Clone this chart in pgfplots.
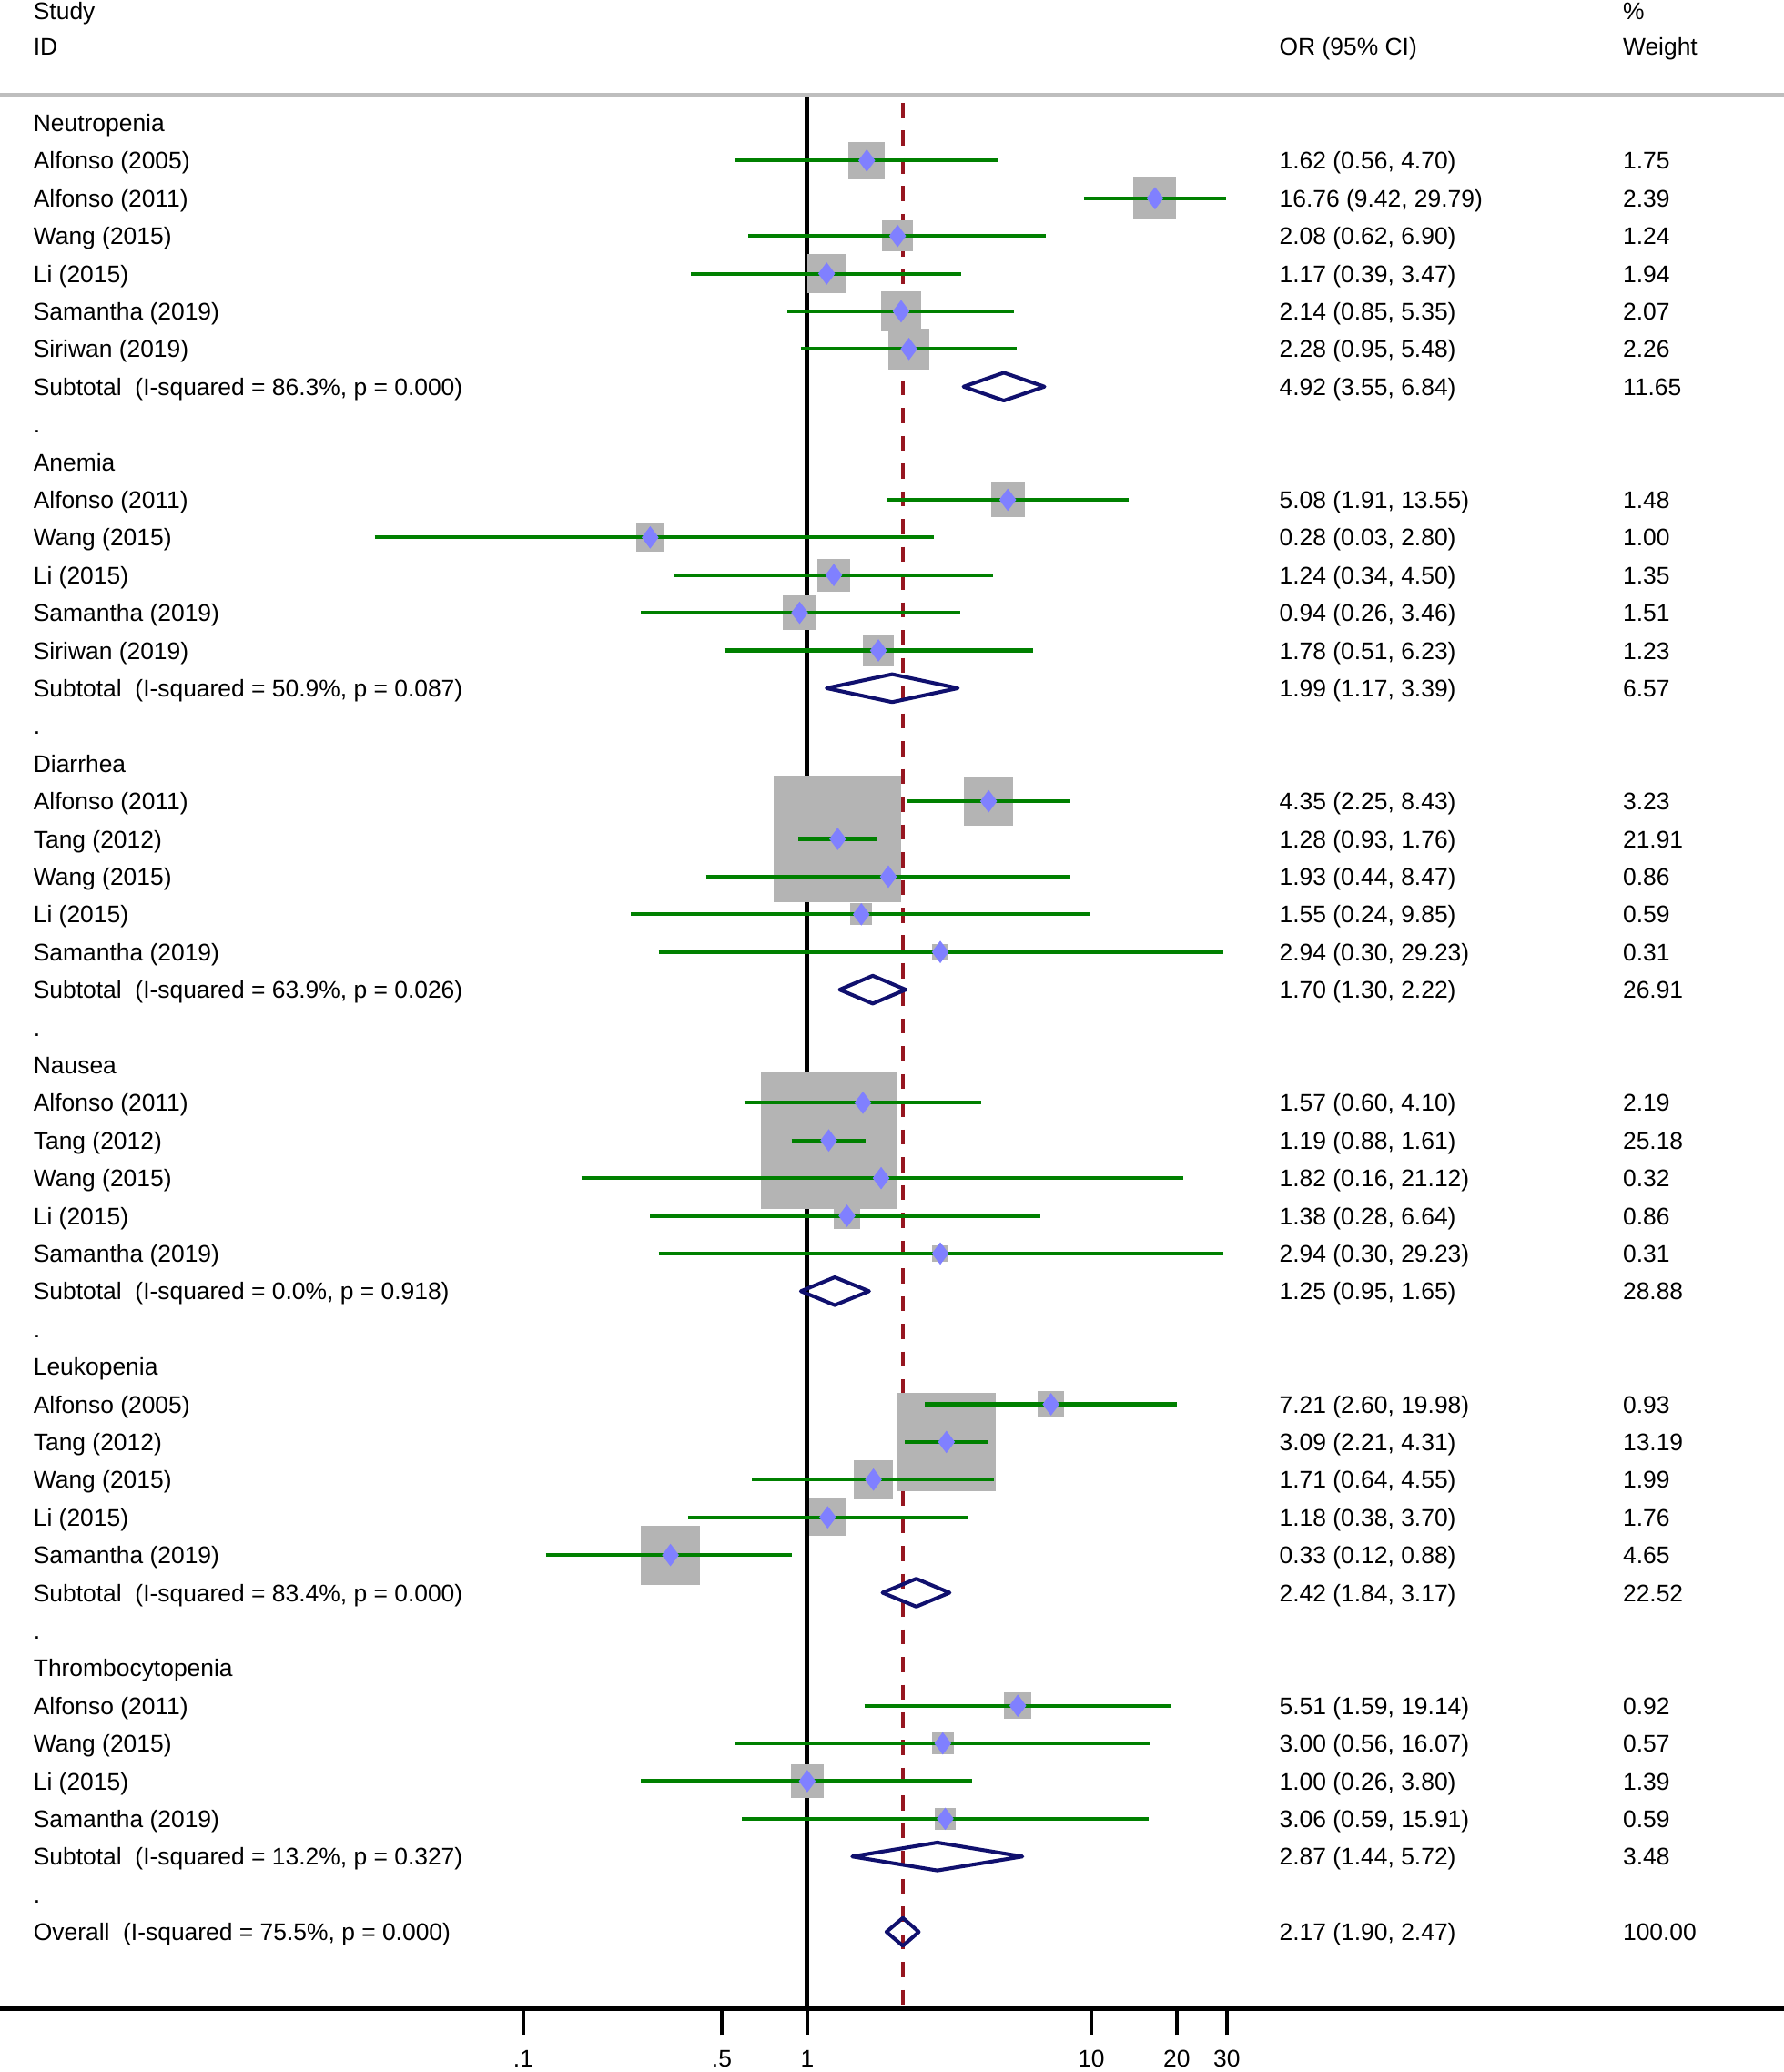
\documentclass[border=0pt]{standalone}
\usepackage{fontspec}
\setmainfont{Liberation Sans}
\usepackage{pgfplots}
\usepackage{pgfplotstable}
\pgfplotsset{compat=1.18}

\definecolor{boxgray}{RGB}{180,180,180}
\definecolor{cigreen}{RGB}{0,128,0}
\definecolor{mblue}{RGB}{128,128,255}
\definecolor{dnavy}{RGB}{16,16,110}
\definecolor{dred}{RGB}{150,22,32}
\definecolor{topgray}{RGB}{190,190,190}

\newcommand\fs{\fontsize{9.1}{11}\selectfont}

% individual studies: row index, OR, lower, upper, weight
\pgfplotstableread{
row or lo hi w
1 1.62 0.56 4.70 1.75
2 16.76 9.42 29.79 2.39
3 2.08 0.62 6.90 1.24
4 1.17 0.39 3.47 1.94
5 2.14 0.85 5.35 2.07
6 2.28 0.95 5.48 2.26
10 5.08 1.91 13.55 1.48
11 0.28 0.03 2.80 1.00
12 1.24 0.34 4.50 1.35
13 0.94 0.26 3.46 1.51
14 1.78 0.51 6.23 1.23
18 4.35 2.25 8.43 3.23
19 1.28 0.93 1.76 21.91
20 1.93 0.44 8.47 0.86
21 1.55 0.24 9.85 0.59
22 2.94 0.30 29.23 0.31
26 1.57 0.60 4.10 2.19
27 1.19 0.88 1.61 25.18
28 1.82 0.16 21.12 0.32
29 1.38 0.28 6.64 0.86
30 2.94 0.30 29.23 0.31
34 7.21 2.60 19.98 0.93
35 3.09 2.21 4.31 13.19
36 1.71 0.64 4.55 1.99
37 1.18 0.38 3.70 1.76
38 0.33 0.12 0.88 4.65
42 5.51 1.59 19.14 0.92
43 3.00 0.56 16.07 0.57
44 1.00 0.26 3.80 1.39
45 3.06 0.59 15.91 0.59
}\studies

% pooled estimates (subtotals and overall)
\pgfplotstableread{
row or lo hi w
7 4.92 3.55 6.84 11.65
15 1.99 1.17 3.39 6.57
23 1.70 1.30 2.22 26.91
31 1.25 0.95 1.65 28.88
39 2.42 1.84 3.17 22.52
46 2.87 1.44 5.72 3.48
48 2.17 1.90 2.47 100.00
}\pooled

\newcommand\rowtext[4]{%
  \node[txt] at ({rel axis cs:0.01852,0}|-{axis cs:1,-#1}) {#2};
  \node[txt] at ({rel axis cs:0.71704,0}|-{axis cs:1,-#1}) {#3};
  \node[txt] at ({rel axis cs:0.90963,0}|-{axis cs:1,-#1}) {#4};
}

\begin{document}
\begin{tikzpicture}[txt/.style={anchor=base west, yshift=-3.3pt, inner sep=0pt, font=\fs, text=black}]
\pgfplotstablegetrowsof{\studies}
\pgfmathtruncatemacro{\nlast}{\pgfplotsretval-1}
\pgfplotstablegetrowsof{\pooled}
\pgfmathtruncatemacro{\nlastp}{\pgfplotsretval-1}
\begin{axis}[
  name=ax,
  scale only axis,
  width=675pt, height=724pt,
  xmode=log,
  xmin=0.0014392, xmax=2736.2,
  ymin=-50.035, ymax=0.7363,
  clip=false,
  clip mode=individual,
  axis x line=bottom,
  axis y line=none,
  x axis line style={-, line width=2pt, black},
  xtick={0.1,0.5,1,10,20,30},
  xticklabels={.1,.5,1,10,20,30},
  xminorticks=false,
  ytick=\empty,
  tick align=outside,
  major tick length=10pt,
  every tick/.style={black, line width=1.5pt},
  xticklabel style={font=\fs, anchor=base, yshift=-12pt},
]
% reference lines
\addplot[black, line width=1.7pt] coordinates {(1,0.7363) (1,-50.035)};
\addplot[dred, line width=1.3pt, dash pattern=on 5.7pt off 4.8pt] coordinates {(2.17,0.53) (2.17,-50.035)};
\draw[topgray, line width=1.4pt] (rel axis cs:0,1) -- (rel axis cs:1,1);

% weight boxes
\addplot[scatter, only marks, mark=square*,
  point meta=\thisrow{w},
  scatter/use mapped color={draw=boxgray, fill=boxgray},
  visualization depends on={5.1*sqrt(\thisrow{w}) \as \msz},
  scatter/@pre marker code/.append style={/tikz/mark size=\msz, /tikz/line width=0.3pt}]
  table[x=or, y expr=-\thisrow{row}] {\studies};

% confidence intervals
\pgfplotsinvokeforeach{0,...,\nlast}{%
  \pgfplotstablegetelem{#1}{lo}\of{\studies}\let\cilo\pgfplotsretval
  \pgfplotstablegetelem{#1}{hi}\of{\studies}\let\cihi\pgfplotsretval
  \pgfplotstablegetelem{#1}{row}\of{\studies}\let\cirow\pgfplotsretval
  \edef\doplot{\noexpand\addplot[cigreen, line width=1.4pt] coordinates {(\cilo,-\cirow) (\cihi,-\cirow)};}%
  \doplot
}

% point estimates
\addplot[only marks, mark=diamond*, mark size=4pt, mark options={draw=mblue, fill=mblue, line width=0.3pt}]
  table[x=or, y expr=-\thisrow{row}] {\studies};

% pooled diamonds
\pgfplotsinvokeforeach{0,...,\nlastp}{%
  \pgfplotstablegetelem{#1}{lo}\of{\pooled}\let\dlo\pgfplotsretval
  \pgfplotstablegetelem{#1}{hi}\of{\pooled}\let\dhi\pgfplotsretval
  \pgfplotstablegetelem{#1}{or}\of{\pooled}\let\dest\pgfplotsretval
  \pgfplotstablegetelem{#1}{row}\of{\pooled}\let\drow\pgfplotsretval
  \pgfmathsetmacro\dym{-\drow}%
  \pgfmathsetmacro\dyt{-\drow+0.37}%
  \pgfmathsetmacro\dyb{-\drow-0.37}%
  \edef\doplot{\noexpand\addplot[dnavy, line width=1.4pt, line join=round] coordinates {(\dlo,\dym) (\dest,\dyt) (\dhi,\dym) (\dest,\dyb)} -- cycle;}%
  \doplot
}

% header
\node[txt] at ({rel axis cs:0.01852,0}|-{axis cs:1,2.98}) {Study};
\node[txt] at ({rel axis cs:0.90963,0}|-{axis cs:1,2.98}) {\%};
\node[txt] at ({rel axis cs:0.01852,0}|-{axis cs:1,2.03}) {ID};
\node[txt] at ({rel axis cs:0.71704,0}|-{axis cs:1,2.03}) {OR (95\% CI)};
\node[txt] at ({rel axis cs:0.90963,0}|-{axis cs:1,2.03}) {Weight};

\rowtext{0}{Neutropenia}{}{}
\rowtext{1}{Alfonso (2005)}{1.62 (0.56, 4.70)}{1.75}
\rowtext{2}{Alfonso (2011)}{16.76 (9.42, 29.79)}{2.39}
\rowtext{3}{Wang (2015)}{2.08 (0.62, 6.90)}{1.24}
\rowtext{4}{Li (2015)}{1.17 (0.39, 3.47)}{1.94}
\rowtext{5}{Samantha (2019)}{2.14 (0.85, 5.35)}{2.07}
\rowtext{6}{Siriwan (2019)}{2.28 (0.95, 5.48)}{2.26}
\rowtext{7}{Subtotal\ \ (I-squared = 86.3\%, p = 0.000)}{4.92 (3.55, 6.84)}{11.65}
\rowtext{8}{.}{}{}
\rowtext{9}{Anemia}{}{}
\rowtext{10}{Alfonso (2011)}{5.08 (1.91, 13.55)}{1.48}
\rowtext{11}{Wang (2015)}{0.28 (0.03, 2.80)}{1.00}
\rowtext{12}{Li (2015)}{1.24 (0.34, 4.50)}{1.35}
\rowtext{13}{Samantha (2019)}{0.94 (0.26, 3.46)}{1.51}
\rowtext{14}{Siriwan (2019)}{1.78 (0.51, 6.23)}{1.23}
\rowtext{15}{Subtotal\ \ (I-squared = 50.9\%, p = 0.087)}{1.99 (1.17, 3.39)}{6.57}
\rowtext{16}{.}{}{}
\rowtext{17}{Diarrhea}{}{}
\rowtext{18}{Alfonso (2011)}{4.35 (2.25, 8.43)}{3.23}
\rowtext{19}{Tang (2012)}{1.28 (0.93, 1.76)}{21.91}
\rowtext{20}{Wang (2015)}{1.93 (0.44, 8.47)}{0.86}
\rowtext{21}{Li (2015)}{1.55 (0.24, 9.85)}{0.59}
\rowtext{22}{Samantha (2019)}{2.94 (0.30, 29.23)}{0.31}
\rowtext{23}{Subtotal\ \ (I-squared = 63.9\%, p = 0.026)}{1.70 (1.30, 2.22)}{26.91}
\rowtext{24}{.}{}{}
\rowtext{25}{Nausea}{}{}
\rowtext{26}{Alfonso (2011)}{1.57 (0.60, 4.10)}{2.19}
\rowtext{27}{Tang (2012)}{1.19 (0.88, 1.61)}{25.18}
\rowtext{28}{Wang (2015)}{1.82 (0.16, 21.12)}{0.32}
\rowtext{29}{Li (2015)}{1.38 (0.28, 6.64)}{0.86}
\rowtext{30}{Samantha (2019)}{2.94 (0.30, 29.23)}{0.31}
\rowtext{31}{Subtotal\ \ (I-squared = 0.0\%, p = 0.918)}{1.25 (0.95, 1.65)}{28.88}
\rowtext{32}{.}{}{}
\rowtext{33}{Leukopenia}{}{}
\rowtext{34}{Alfonso (2005)}{7.21 (2.60, 19.98)}{0.93}
\rowtext{35}{Tang (2012)}{3.09 (2.21, 4.31)}{13.19}
\rowtext{36}{Wang (2015)}{1.71 (0.64, 4.55)}{1.99}
\rowtext{37}{Li (2015)}{1.18 (0.38, 3.70)}{1.76}
\rowtext{38}{Samantha (2019)}{0.33 (0.12, 0.88)}{4.65}
\rowtext{39}{Subtotal\ \ (I-squared = 83.4\%, p = 0.000)}{2.42 (1.84, 3.17)}{22.52}
\rowtext{40}{.}{}{}
\rowtext{41}{Thrombocytopenia}{}{}
\rowtext{42}{Alfonso (2011)}{5.51 (1.59, 19.14)}{0.92}
\rowtext{43}{Wang (2015)}{3.00 (0.56, 16.07)}{0.57}
\rowtext{44}{Li (2015)}{1.00 (0.26, 3.80)}{1.39}
\rowtext{45}{Samantha (2019)}{3.06 (0.59, 15.91)}{0.59}
\rowtext{46}{Subtotal\ \ (I-squared = 13.2\%, p = 0.327)}{2.87 (1.44, 5.72)}{3.48}
\rowtext{47}{.}{}{}
\rowtext{48}{Overall\ \ (I-squared = 75.5\%, p = 0.000)}{2.17 (1.90, 2.47)}{100.00}
\end{axis}
\pgfresetboundingbox
\useasboundingbox ([yshift=-24pt]ax.south west) rectangle ([yshift=36pt]ax.north east);
\end{tikzpicture}
\end{document}
